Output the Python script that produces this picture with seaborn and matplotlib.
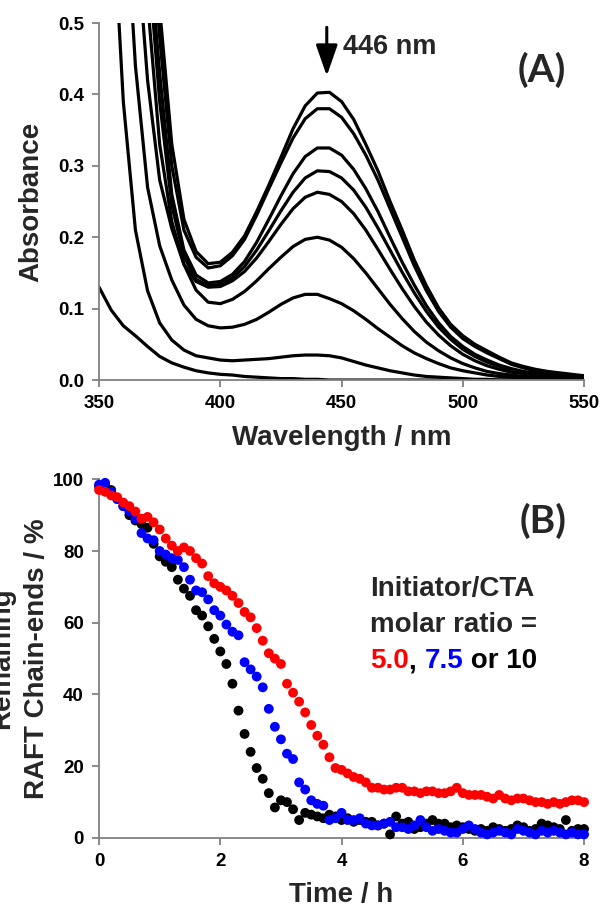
import numpy as np
import pandas as pd
import seaborn as sns
import matplotlib.pyplot as plt
from matplotlib.ticker import FormatStrFormatter

# %% Data: UV-vis spectra (panel A)
wavelength = [350, 355, 360, 365, 370, 375, 380, 385, 390, 395, 400, 405, 410,
              415, 420, 425, 430, 435, 440, 445, 450, 455, 460, 465, 470, 475,
              480, 485, 490, 495, 500, 505, 510, 515, 520, 525, 530, 535, 540,
              545, 550]

abs_1 = [2.5, 1.9, 1.45, 1.05, 0.75, 0.52, 0.33, 0.225, 0.18, 0.163, 0.165, 0.179,
         0.202, 0.236, 0.273, 0.312, 0.352, 0.384, 0.402, 0.403, 0.39, 0.365, 0.33,
         0.293, 0.25, 0.21, 0.168, 0.132, 0.101, 0.078, 0.062, 0.05, 0.041, 0.032,
         0.024, 0.019, 0.015, 0.012, 0.01, 0.008, 0.006]
abs_2 = [2.4, 1.8, 1.35, 0.98, 0.7, 0.48, 0.3, 0.21, 0.172, 0.157, 0.16, 0.174,
         0.197, 0.231, 0.268, 0.304, 0.339, 0.366, 0.38, 0.38, 0.368, 0.345, 0.315,
         0.28, 0.24, 0.2, 0.16, 0.125, 0.096, 0.074, 0.058, 0.047, 0.038, 0.03,
         0.022, 0.017, 0.013, 0.011, 0.009, 0.007, 0.005]
abs_3 = [2.2, 1.6, 1.2, 0.88, 0.63, 0.43, 0.26, 0.182, 0.147, 0.136, 0.138, 0.148,
         0.166, 0.193, 0.225, 0.258, 0.289, 0.313, 0.325, 0.325, 0.315, 0.295,
         0.268, 0.236, 0.2, 0.165, 0.133, 0.104, 0.08, 0.061, 0.047, 0.036, 0.028,
         0.021, 0.016, 0.012, 0.01, 0.008, 0.007, 0.006, 0.005]
abs_4 = [2.1, 1.55, 1.15, 0.83, 0.6, 0.39, 0.245, 0.173, 0.141, 0.132, 0.134,
         0.143, 0.159, 0.182, 0.209, 0.237, 0.263, 0.283, 0.293, 0.292, 0.283,
         0.266, 0.242, 0.213, 0.182, 0.151, 0.122, 0.096, 0.074, 0.057, 0.043,
         0.033, 0.025, 0.019, 0.014, 0.011, 0.009, 0.007, 0.006, 0.005, 0.004]
abs_5 = [1.9, 1.4, 1.05, 0.78, 0.53, 0.33, 0.222, 0.162, 0.138, 0.13, 0.131,
         0.139, 0.152, 0.171, 0.194, 0.218, 0.24, 0.256, 0.263, 0.26, 0.25, 0.233,
         0.21, 0.183, 0.155, 0.128, 0.103, 0.081, 0.063, 0.048, 0.036, 0.027,
         0.02, 0.015, 0.011, 0.009, 0.007, 0.006, 0.005, 0.004, 0.004]
abs_6 = [1.6, 1.15, 0.85, 0.64, 0.42, 0.28, 0.212, 0.162, 0.126, 0.109, 0.107,
         0.113, 0.124, 0.139, 0.156, 0.172, 0.187, 0.197, 0.2, 0.196, 0.186, 0.17,
         0.15, 0.128, 0.106, 0.086, 0.068, 0.053, 0.041, 0.031, 0.023, 0.017,
         0.012, 0.009, 0.007, 0.005, 0.004, 0.003, 0.003, 0.002, 0.002]
abs_7 = [1.6, 1.1, 0.72, 0.44, 0.27, 0.188, 0.14, 0.105, 0.085, 0.076, 0.073,
         0.074, 0.078, 0.085, 0.095, 0.106, 0.115, 0.12, 0.12, 0.114, 0.107,
         0.097, 0.085, 0.072, 0.06, 0.048, 0.038, 0.03, 0.023, 0.017, 0.013, 0.01,
         0.007, 0.005, 0.004, 0.003, 0.002, 0.002, 0.002, 0.001, 0.001]
abs_8 = [1.0, 0.7, 0.39, 0.21, 0.125, 0.08, 0.056, 0.042, 0.034, 0.031, 0.028,
         0.027, 0.028, 0.029, 0.03, 0.032, 0.034, 0.035, 0.035, 0.034, 0.031,
         0.026, 0.021, 0.017, 0.013, 0.01, 0.007, 0.005, 0.004, 0.003, 0.002,
         0.001, 0.001, 0.0, 0.0, 0.0, 0.0, 0.0, 0.0, 0.0, 0.0]
abs_9 = [0.13, 0.098, 0.076, 0.062, 0.047, 0.033, 0.024, 0.018, 0.013, 0.01, 0.008,
         0.007, 0.005, 0.004, 0.003, 0.002, 0.002, 0.001, 0.001, 0.0, 0.0, 0.0,
         0.0, 0.0, 0.0, 0.0, 0.0, 0.0, 0.0, 0.0, 0.0, 0.0, 0.0, 0.0, 0.0, 0.0,
         0.0, 0.0, 0.0, 0.0, 0.0]
spectra = [abs_1, abs_2, abs_3, abs_4, abs_5, abs_6, abs_7, abs_8, abs_9]

# %% Data: remaining RAFT chain-ends (panel B), sampled every 0.1 h
time_h = np.round(np.linspace(0, 8, 81), 1)

ratio_10 = [98, 98.5, 97, 94.5, 92.5, 90, 88.5, 87.5, 86.5, 82, 78.5, 77, 75.5,
            72, 69.5, 67.5, 63.5, 62, 59, 55.5, 52, 48.5, 43, 35.5, 29, 24, 19.5,
            16.5, 12.5, 8.5, 10.5, 10, 8, 5, 7, 6.5, 6, 5.5, 6.5, 6, 5, 5.5, 4.5,
            5, 4.5, 4.5, 3.5, 4, 1, 6, 4, 4.5, 2.5, 3, 4, 5, 4, 4, 3, 3.5, 3, 2.5,
            2, 2.5, 2, 3, 2.5, 2, 2.5, 3.5, 3, 2, 2.5, 4, 3.5, 3, 2.5, 5, 2, 2.5,
            2.5]
ratio_7_5 = [98.5, 99, 96.5, 94.5, 92.5, 91, 89, 85, 83.5, 83, 80, 79, 78, 77.5,
             75.5, 72, 69, 68.5, 66.5, 63.5, 62, 59.5, 57.5, 56.5, 49, 47, 45,
             42, 36, 31, 27.5, 23.5, 22, 15.5, 13.5, 10.5, 9.5, 9, 5, 5.5, 7, 5,
             5, 5.5, 4, 3.5, 3.5, 4, 4.5, 3, 3, 2.5, 3.5, 5, 3, 2, 2.5, 2, 1.5,
             1.5, 2.5, 3.5, 2.5, 1.5, 1, 1.5, 2, 1.5, 1, 2.5, 2, 1.5, 1, 2, 1.5,
             2, 1.5, 1, 1.5, 1, 1]
ratio_5_0 = [97, 96.5, 95.5, 95, 93.5, 92.5, 91, 89, 89.5, 88, 86, 83.5, 81.5,
             80, 81, 80, 78, 76.5, 73, 71, 70, 69, 67.5, 65.5, 63, 61.5, 58.5, 55,
             51.5, 50, 48.5, 43, 40.5, 38, 35, 31.5, 28.5, 26, 22.5, 19.5, 19, 18,
             17, 16.5, 15.5, 14, 14, 13.5, 13.5, 14, 14, 13, 13, 12.5, 13, 13,
             12.5, 12.5, 13, 14, 12.5, 12, 12, 12, 11.5, 11, 12, 11, 10.5, 11, 11,
             10.5, 10, 10, 9.5, 10, 9.5, 10, 10.5, 10.5, 10]

series = [("10", ratio_10, "black"), ("7.5", ratio_7_5, "#0000ff"),
          ("5.0", ratio_5_0, "#ff0000")]

# %% Style
sns.set_theme(style="ticks")
plt.rcParams["font.family"] = ["Liberation Sans", "DejaVu Sans"]
plt.rcParams["font.weight"] = "bold"
plt.rcParams["axes.labelweight"] = "bold"

spine_col = "#808080"

fig = plt.figure(figsize=(6.04, 9.07), dpi=100)
ax1 = fig.add_axes([0.164, 0.581, 0.803, 0.3936])
ax2 = fig.add_axes([0.164, 0.0761, 0.803, 0.3955])

# %% Panel A
for spec in spectra:
    sns.lineplot(x=wavelength, y=spec, color="black", linewidth=2.3, ax=ax1)

ax1.set_xlim(350, 550)
ax1.set_ylim(0, 0.5)
ax1.set_xticks([350, 400, 450, 500, 550])
ax1.set_yticks([0.0, 0.1, 0.2, 0.3, 0.4, 0.5])
ax1.yaxis.set_major_formatter(FormatStrFormatter("%.1f"))
ax1.set_xlabel("Wavelength / nm", fontsize=20)
ax1.set_ylabel("Absorbance", fontsize=20)
ax1.xaxis.set_label_coords(0.5, -0.125)
ax1.yaxis.set_label_coords(-0.112, 0.5)

ax1.annotate("", xy=(443.9, 0.426), xytext=(443.9, 0.494),
             arrowprops=dict(arrowstyle="-|>,head_length=1.0,head_width=0.35",
                             mutation_scale=19, lw=2.2, color="black",
                             shrinkA=0, shrinkB=0))
ax1.text(450.6, 0.467, "446 nm", fontsize=19.5, fontweight="bold",
         ha="left", va="center")
ax1.text(532.7, 0.435, "(A)", fontsize=28, fontweight="bold",
         family=["Lato", "DejaVu Sans"], ha="center", va="center")

# %% Panel B
for name, vals, col in series:
    sns.scatterplot(x=time_h, y=vals, color=col, s=50, edgecolor="none",
                    ax=ax2, clip_on=False, zorder=3)

ax2.set_xlim(0, 8)
ax2.set_ylim(0, 100)
ax2.set_xticks([0, 2, 4, 6, 8])
ax2.set_yticks([0, 20, 40, 60, 80, 100])
ax2.set_xlabel("Time / h", fontsize=20)
ax2.set_ylabel("Remaining\nRAFT Chain-ends / %", fontsize=20, linespacing=1.45)
ax2.xaxis.set_label_coords(0.5, -0.122)
ax2.yaxis.set_label_coords(-0.101, 0.5)

ax2.text(7.32, 88.3, "(B)", fontsize=28, fontweight="bold",
         family=["Lato", "DejaVu Sans"], ha="center", va="center")
ax2.text(4.47, 69.3, "Initiator/CTA", fontsize=20, va="center", ha="left")
ax2.text(4.47, 59.4, "molar ratio =", fontsize=20, va="center", ha="left")
t0 = ax2.text(4.47, 49.3, "5.0", fontsize=20, color="#ff0000",
              va="center", ha="left")
t1 = ax2.annotate(", ", xy=(1, 0), xycoords=t0, fontsize=20, color="black",
                  va="bottom", ha="left")
t2 = ax2.annotate("7.5", xy=(1, 0), xycoords=t1, fontsize=20, color="#0000ff",
                  va="bottom", ha="left")
ax2.annotate(" or 10", xy=(1, 0), xycoords=t2, fontsize=20, color="black",
             va="bottom", ha="left")

# %% Shared axis styling
for ax in (ax1, ax2):
    sns.despine(ax=ax)
    for sp in ("left", "bottom"):
        ax.spines[sp].set_color(spine_col)
        ax.spines[sp].set_linewidth(1.3)
    ax.tick_params(direction="out", length=5, width=1.3, color=spine_col,
                   labelsize=13.5, pad=6, labelcolor="black")
    for lab in ax.get_xticklabels() + ax.get_yticklabels():
        lab.set_fontweight("bold")

fig.savefig("out.png", dpi=100)
